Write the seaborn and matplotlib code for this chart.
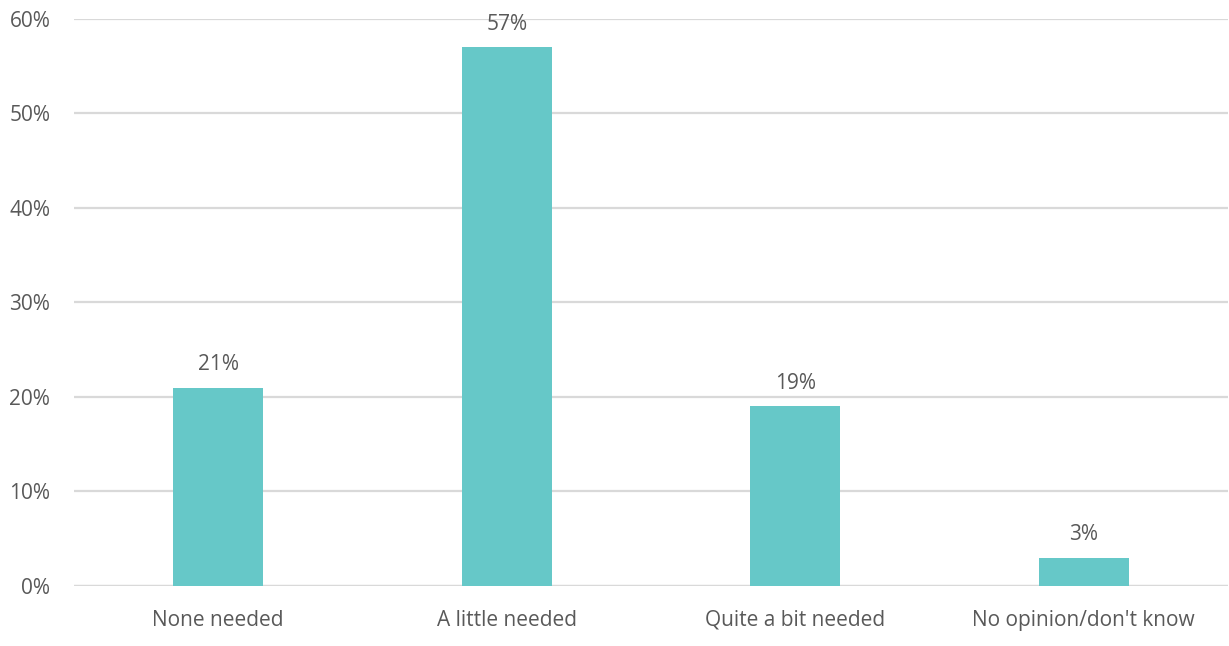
import matplotlib
matplotlib.use("Agg")
import matplotlib.pyplot as plt
import seaborn as sns
import pandas as pd
from matplotlib.ticker import PercentFormatter

categories = ["None needed", "A little needed", "Quite a bit needed", "No opinion/don't know"]
shares = [21, 57, 19, 3]

df = pd.DataFrame({"category": categories, "share": shares})

sns.set_theme(style="white")
plt.rcParams["font.family"] = ["Open Sans", "DejaVu Sans"]

text_color = "#595959"
bar_color = "#66C8C8"
grid_color = "#D9D9D9"

fig = plt.figure(figsize=(12.29, 6.46), dpi=100)
ax = fig.add_axes([0.0602, 0.0929, 0.9390, 0.8777])

sns.barplot(data=df, x="category", y="share", color=bar_color, width=0.312,
            saturation=1, linewidth=0, edgecolor="none", ax=ax, zorder=3)

ax.set_ylim(0, 60)
ax.set_xlim(-0.5, len(categories) - 0.5)
ax.set_yticks(range(0, 61, 10))
ax.yaxis.set_major_formatter(PercentFormatter(decimals=0))
ax.yaxis.grid(True, color=grid_color, linewidth=1.6, zorder=0)
ax.set_axisbelow(True)
for side in ["top", "right", "left", "bottom"]:
    ax.spines[side].set_visible(False)
ax.axhline(0, color=grid_color, linewidth=1.6, zorder=1)

ax.set_xlabel("")
ax.set_ylabel("")
ax.tick_params(axis="both", length=0, labelsize=15, colors=text_color)
ax.tick_params(axis="x", pad=17)
ax.tick_params(axis="y", pad=17)

for container in ax.containers:
    ax.bar_label(container, labels=[f"{v:.0f}%" for v in shares], padding=9,
                 fontsize=15, color=text_color)

fig.savefig("out.png", dpi=100)
